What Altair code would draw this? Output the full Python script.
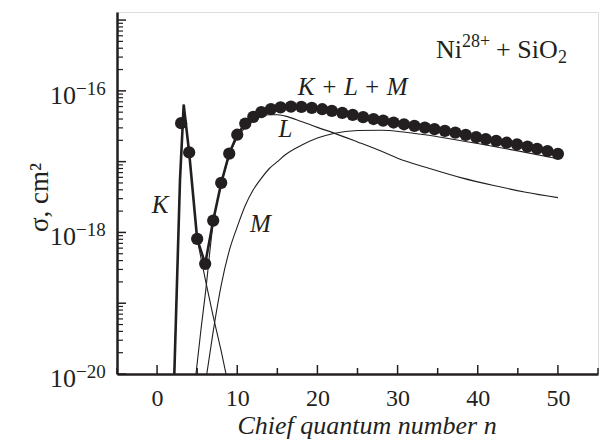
import altair as alt
import pandas as pd

ink = "#231f20"
FONT = "Liberation Serif"

# ---- data ----
# dot positions (the dots get sparser beyond n ~ 13, as in the figure)
n_dots = [3, 4, 5, 6, 7, 8, 9, 10, 11, 12, 13, 14.2, 15.4, 16.7,
          18.0, 19.3, 20.6, 21.8, 23.1, 24.4, 25.7, 27.0, 28.2, 29.5, 30.8, 32.1, 33.4,
          34.6, 35.9, 37.2, 38.5, 39.8, 41.0, 42.3, 43.6, 44.9, 46.2, 47.4, 48.7, 50.0]
sigma_dots = [3.5e-17, 1.35e-17, 8.1e-19, 3.6e-19, 1.47e-18, 5.0e-18, 1.3e-17, 2.4e-17,
              3.45e-17, 4.3e-17, 5.0e-17, 5.53e-17, 5.85e-17, 6.0e-17,
              5.94e-17, 5.75e-17, 5.5e-17, 5.22e-17, 4.89e-17, 4.58e-17, 4.25e-17, 4.0e-17,
              3.79e-17, 3.57e-17, 3.37e-17, 3.2e-17, 3.03e-17, 2.88e-17, 2.72e-17, 2.57e-17,
              2.39e-17, 2.22e-17, 2.08e-17, 1.96e-17, 1.85e-17, 1.75e-17, 1.63e-17, 1.52e-17,
              1.41e-17, 1.29e-17]

# rising branch of the total (K+L+M) curve before the dotted part
n_total_rise = [2.15, 2.86, 3.32]
sigma_total_rise = [1e-20, 5.6e-18, 6.4e-17]

n_K = [2.15, 2.86, 3.32, 4.0, 5.0, 6.0, 7.0, 8.0, 8.6]
sigma_K = [1e-20, 5.6e-18, 6.4e-17, 1.35e-17, 8.1e-19, 2.2e-19, 6.5e-20, 2.1e-20, 1e-20]

n_L = [4.85, 5.5, 6, 7, 8, 9, 10, 11, 12, 13, 14, 15, 16, 18, 20, 22, 25, 28, 30, 34, 38, 42, 46, 50]
sigma_L = [1e-20, 4.5e-20, 1.3e-19, 1.35e-18, 4.7e-18, 1.2e-17, 2.2e-17, 3.0e-17, 3.8e-17,
           4.4e-17, 4.6e-17, 4.6e-17, 4.4e-17, 3.7e-17, 3.05e-17, 2.55e-17, 1.9e-17, 1.4e-17,
           1.12e-17, 8.0e-18, 5.9e-18, 4.6e-18, 3.7e-18, 3.1e-18]

n_M = [6.2, 7, 8, 9, 10, 11, 12, 13, 14, 15, 16, 18, 20, 22, 25, 28, 31, 35, 40, 45, 50]
sigma_M = [1e-20, 4e-20, 1.8e-19, 5.5e-19, 1.2e-18, 2.4e-18, 4e-18, 5.8e-18, 8e-18, 1.0e-17,
           1.25e-17, 1.7e-17, 2.15e-17, 2.5e-17, 2.75e-17, 2.78e-17, 2.6e-17, 2.25e-17,
           1.8e-17, 1.42e-17, 1.1e-17]

x_label_values = [0, 10, 20, 30, 40, 50]
x_major_ticks = [0, 10, 20, 30, 40, 50]
x_minor_ticks = [-5, 5, 15, 25, 35, 45, 55]
y_major_ticks = [1e-20, 1e-19, 1e-18, 1e-17, 1e-16, 1e-15]
y_minor_ticks = [k * 10.0 ** d for d in range(-20, -15) for k in range(2, 10)]
y_label_values = [1e-20, 1e-18, 1e-16]
y_label_exps = ["\u221220", "\u221218", "\u221216"]

curve_labels = ["K", "L", "M", "K + L + M"]
curve_label_n = [0.37, 16.0, 12.9, 24.4]
curve_label_sigma = [1.9e-18, 2.2e-17, 1.0e-18, 8.6e-17]

note_n = [34.8]
note_sigma = [2.9e-16]

W, H = 481, 362

# ---- frames ----
dots = pd.DataFrame({"n": n_dots, "sigma": sigma_dots})
total_line = pd.DataFrame({"n": n_total_rise + n_dots[1:],
                           "sigma": sigma_total_rise + sigma_dots[1:]})
kdf = pd.DataFrame({"n": n_K, "sigma": sigma_K})
ldf = pd.DataFrame({"n": n_L, "sigma": sigma_L})
mdf = pd.DataFrame({"n": n_M, "sigma": sigma_M})

xs = alt.Scale(domain=[-5, 55], nice=False, zero=False)
ys = alt.Scale(type="log", domain=[1e-20, 1.3e-15], nice=False)

x_axis = alt.Axis(values=x_label_values, ticks=False, grid=False, domainWidth=2.5,
                  domainColor=ink, labelFont=FONT, labelFontSize=24, labelColor=ink,
                  labelPadding=12, title="Chief quantum number n", titleFont=FONT,
                  titleFontStyle="italic", titleFontWeight="normal", titleFontSize=26,
                  titleColor=ink, titleX=249.5, titleY=59, titleBaseline="alphabetic",
                  titleAlign="center")
y_axis = alt.Axis(labels=False, ticks=False, grid=False, domainWidth=2.5, domainColor=ink,
                  title="σ, cm²", titleFont=FONT, titleFontWeight="normal", titleFontSize=27,
                  titleColor=ink, titleX=-70, titleY=185, titleAngle=270,
                  titleBaseline="alphabetic", titleAlign="center")

X = alt.X("n:Q", scale=xs, axis=x_axis)
Y = alt.Y("sigma:Q", scale=ys, axis=y_axis)

thin = dict(color=ink, strokeWidth=1.1, clip=True)
k_line = alt.Chart(kdf).mark_line(**thin).encode(x=X, y=Y)
l_line = alt.Chart(ldf).mark_line(interpolate="monotone", **thin).encode(x=X, y=Y)
m_line = alt.Chart(mdf).mark_line(interpolate="monotone", **thin).encode(x=X, y=Y)
t_line = alt.Chart(total_line).mark_line(color=ink, strokeWidth=2.6, clip=True).encode(x=X, y=Y)
pts = alt.Chart(dots).mark_circle(size=150, color=ink, opacity=1).encode(x=X, y=Y)

# ticks pointing inward
xt_major = alt.Chart(pd.DataFrame({"n": x_major_ticks})).mark_rule(color=ink, strokeWidth=1.5).encode(
    x=X, y=alt.value(H), y2=alt.value(H - 9))
xt_minor = alt.Chart(pd.DataFrame({"n": x_minor_ticks})).mark_rule(color=ink, strokeWidth=1.5).encode(
    x=X, y=alt.value(H), y2=alt.value(H - 6))
yt_major = alt.Chart(pd.DataFrame({"sigma": y_major_ticks})).mark_rule(color=ink, strokeWidth=1.5).encode(
    y=Y, x=alt.value(0), x2=alt.value(9))
yt_minor = alt.Chart(pd.DataFrame({"sigma": y_minor_ticks})).mark_rule(color=ink, strokeWidth=1.2).encode(
    y=Y, x=alt.value(0), x2=alt.value(6))

# y tick labels 10^exp
ylab = pd.DataFrame({"sigma": y_label_values, "exp": y_label_exps})
ylab_base = alt.Chart(ylab).mark_text(font=FONT, fontSize=26, color=ink, align="right",
                                      baseline="alphabetic", dy=13).encode(
    y=Y, x=alt.value(-41), text=alt.value("10"))
ylab_exp = alt.Chart(ylab).mark_text(font=FONT, fontSize=19, color=ink, align="left",
                                     baseline="alphabetic", dy=4).encode(
    y=Y, x=alt.value(-41), text="exp:N")

# curve labels
cl = pd.DataFrame({"n": curve_label_n, "sigma": curve_label_sigma, "t": curve_labels})
clab = alt.Chart(cl).mark_text(font=FONT, fontStyle="italic", fontSize=25, color=ink,
                               align="center", baseline="alphabetic").encode(x=X, y=Y, text="t:N")

# Ni^{28+} + SiO_2 annotation
note = pd.DataFrame({"n": note_n, "sigma": note_sigma})
def note_part(txt, size, dx, dy):
    return alt.Chart(note).mark_text(font=FONT, fontSize=size, color=ink, align="left",
                                     baseline="alphabetic", dx=dx, dy=dy).encode(
        x=X, y=Y, text=alt.value(txt))
n1 = note_part("Ni", 26, 0, 0)
n2 = note_part("28+", 18, 26, -11)
n3 = note_part("+ SiO", 26, 60, 0)
n4 = note_part("2", 18, 122, 5)

chart = alt.layer(
    k_line, l_line, m_line, t_line, pts,
    xt_major, xt_minor, yt_major, yt_minor,
    ylab_base, ylab_exp, clab, n1, n2, n3, n4
).properties(
    width=W, height=H,
    autosize=alt.AutoSizeParams(type="none"),
    padding={"left": 117, "top": 12, "right": 2, "bottom": 65},
).configure_view(stroke=None).configure(background="white")

chart.save("out.html", embed_options={"renderer": "svg", "actions": False})
